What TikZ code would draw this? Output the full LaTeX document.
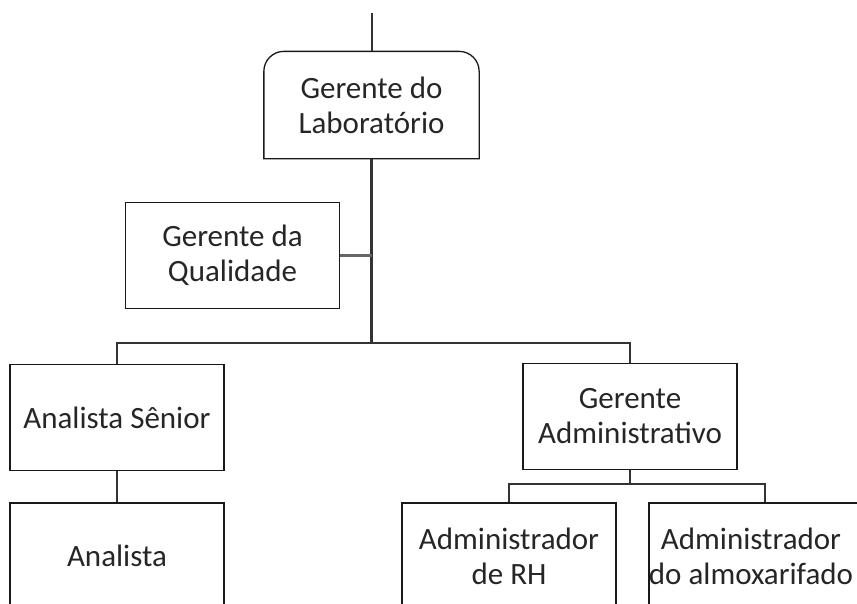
\documentclass[tikz,border=0pt]{standalone}
\usepackage{fontspec}
\setmainfont{Carlito}
\usetikzlibrary{arrows,shapes,calc,positioning}

\begin{document}
\begin{tikzpicture}[x=1pt, y=-1pt]
	\tikzstyle{every node}=[font=\fontsize{31}{35}\selectfont, text=black!85]
	\tikzstyle{box}=[draw=black!90, line width=1.3pt, minimum width=214pt, minimum height=106pt, inner sep=0pt, align=center]
	\tikzstyle{link}=[draw=black!80, line width=1.5pt]
	\useasboundingbox (0,0) rectangle (857,603);
	\clip (0,0) rectangle (857,603);
	% boxes
	\node [box, draw=none] (lab) at (371.5,105) {Gerente do\\Laborat\'orio};
	\draw [line width=1.3pt, draw=black!90] (lab.south west) [rounded corners=20pt] -- (lab.north west) -- (lab.north east) [sharp corners] -- (lab.south east) -- cycle;
	\node [box] (qual) at (232.5,255.5) {Gerente da\\Qualidade};
	\node [box] (senior) at (117,417.5) {Analista S\^enior};
	\node [box] (analista) at (117,556) {Analista};
	\node [box] (adm) at (630,416.5) {Gerente\\Administrativo};
	\node [box] (rh) at (509,556) {Administrador\\de RH};
	\node [box, minimum width=232pt] (almox) at (765,556) {};
	\node [align=center] (almoxtxt) at ([xshift=-14pt]almox.center) {Administrador\\do almoxarifado};
	% connectors
	\coordinate (top) at (371.5,13);
	\coordinate (bus) at (371.5,343);
	\coordinate (split) at (630,484);
	\draw [link, line width=2pt] (top) -- (lab.north);
	\draw [link, line width=3pt] (lab.south) -- (bus);
	\draw [link, line width=3pt, draw=black!60] (qual.east) -- (qual.east -| bus);
	\draw [link] (senior.north) |- (bus) -| (adm.north);
	\draw [link] (senior.south) -- (analista.north);
	\draw [link] (adm.south) -- (split);
	\draw [link] (rh.north) |- (split) -| (almox.north);
\end{tikzpicture}
\end{document}
